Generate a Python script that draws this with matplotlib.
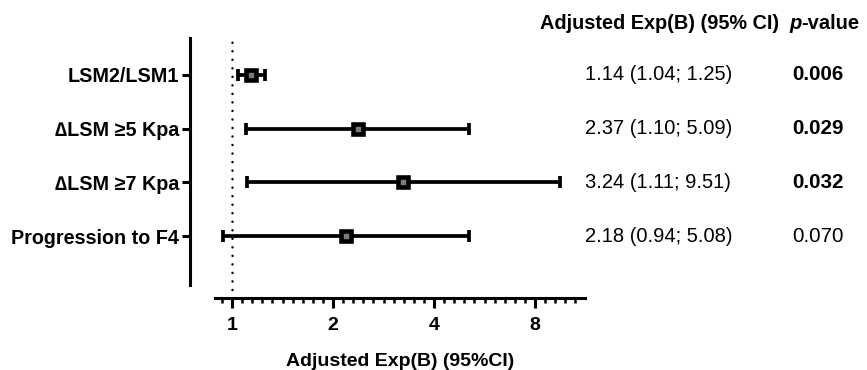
import numpy as np
import matplotlib
matplotlib.use('Agg')
import matplotlib.pyplot as plt
from matplotlib.ticker import FixedLocator, NullFormatter

plt.rcParams['font.family'] = ['Liberation Sans', 'DejaVu Sans']

# Datos del forest plot
etiquetas = ['LSM2/LSM1', '∆LSM ≥5 Kpa', '∆LSM ≥7 Kpa', 'Progression to F4']
or_ajustado = [1.14, 2.37, 3.24, 2.18]
ic_inf = [1.04, 1.10, 1.11, 0.94]
ic_sup = [1.25, 5.09, 9.51, 5.08]
p_valores = ['0.006', '0.029', '0.032', '0.070']
p_significativo = [True, True, True, False]
x_ticks = [1, 2, 4, 8]

filas = np.arange(len(etiquetas), 0, -1)  # 4, 3, 2, 1 (de arriba hacia abajo)

fig = plt.figure(figsize=(8.67, 3.70), dpi=100)
ax = fig.add_axes([215 / 867, 1 - 298 / 370, 370 / 867, 260 / 370])

# Ejes estilo Prism (se posicionan antes de poner las etiquetas)
for lado in ['top', 'right']:
    ax.spines[lado].set_visible(False)
ax.spines['left'].set_position(('outward', 18))
ax.spines['left'].set_linewidth(2.2)
ax.spines['bottom'].set_linewidth(2.2)

# Intervalos de confianza y punto estimado
orr = np.array(or_ajustado)
err = np.array([orr - np.array(ic_inf), np.array(ic_sup) - orr])
ax.errorbar(or_ajustado, filas, xerr=err, fmt='none', ecolor='black',
            elinewidth=2.7, capsize=4, capthick=2.7, zorder=2)
ax.plot(or_ajustado, filas, 's', markersize=6.6, markerfacecolor='#7a7a7a',
        markeredgecolor='black', markeredgewidth=3.3, zorder=3)

# Linea de referencia en 1
ax.axvline(1, color='black', linestyle=(0, (0.01, 3.4)), linewidth=1.8,
           dash_capstyle='round', zorder=1)

# Escala log2
ax.set_xscale('log', base=2)
ax.set_xlim(2 ** (-17 / 101), 2 ** (353 / 101))
ax.set_ylim(1 - 62 / 54, 4 + 37 / 54)
ax.spines['left'].set_bounds(1 - 49 / 54, 4 + 37 / 54)
ax.xaxis.set_major_locator(FixedLocator(x_ticks))
ax.set_xticklabels([str(t) for t in x_ticks], fontsize=14, fontweight='bold')
ax.xaxis.set_minor_locator(FixedLocator(2 ** (np.arange(-1, 35) / 10)))
ax.xaxis.set_minor_formatter(NullFormatter())
ax.tick_params(axis='x', which='major', length=7, width=2.2, pad=7)
ax.tick_params(axis='x', which='minor', length=3.5, width=1.8)
ax.set_xlabel('Adjusted Exp(B) (95%CI)', fontsize=14, fontweight='bold',
              labelpad=13)

ax.set_yticks(filas)
ax.set_yticklabels(etiquetas, fontsize=14.2, fontweight='bold')
ax.tick_params(axis='y', length=6, width=2.2, pad=2)

# Columnas de texto a la derecha
y_cab = 4 + 52 / 54
ax.annotate('Adjusted Exp(B) (95% CI)', xy=(540, y_cab),
            xycoords=('figure pixels', 'data'), fontsize=14.3,
            fontweight='bold', va='center', ha='left', annotation_clip=False)
ax.annotate('p', xy=(789, y_cab), xycoords=('figure pixels', 'data'),
            fontsize=14.5, fontweight='bold', fontstyle='italic',
            va='center', ha='left', annotation_clip=False)
ax.annotate('-value', xy=(801, y_cab), xycoords=('figure pixels', 'data'),
            fontsize=14.5, fontweight='bold', va='center', ha='left',
            annotation_clip=False)

for y, o, lo, hi, p, sig in zip(filas, or_ajustado, ic_inf, ic_sup,
                                p_valores, p_significativo):
    ax.annotate(f'{o:.2f} ({lo:.2f}; {hi:.2f})', xy=(585, y),
                xycoords=('figure pixels', 'data'), fontsize=14.5,
                va='center', ha='left', annotation_clip=False)
    ax.annotate(p, xy=(792, y), xycoords=('figure pixels', 'data'),
                fontsize=14.8, fontweight='bold' if sig else 'normal',
                va='center', ha='left', annotation_clip=False)

fig.savefig('out.png', dpi=100)
